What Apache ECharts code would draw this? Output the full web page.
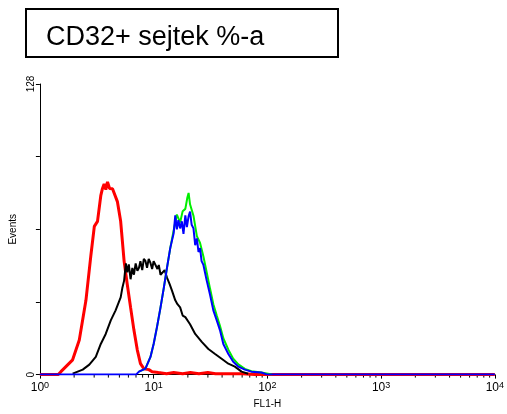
<!DOCTYPE html>
<html><head><meta charset="utf-8">
<script src="https://cdn.jsdelivr.net/npm/echarts@6/dist/echarts.min.js"></script>
<style>html,body{margin:0;padding:0;background:#fff}#c{width:507px;height:414px}</style>
</head><body><div id="c"></div>
<script>
// FL1-H channel values (x) and event counts (y) for each histogram
var redX = [1, 1.45, 1.53, 1.94, 2.22, 2.54, 2.81, 3.01, 3.21, 3.43, 3.55, 3.67, 3.80, 3.93, 4.10, 4.35, 4.80, 5.13, 5.50, 5.87, 6.27, 6.71, 7.18, 7.66, 8.20, 9.08, 9.70, 11, 13, 15, 18, 21, 25, 30, 35, 42, 50, 60, 80, 100, 10000];
var redY = [0, 0, 1.3, 6.5, 15.2, 32.7, 52.7, 65.3, 67.5, 78.8, 82, 84, 81.5, 84.9, 82, 81.9, 76.2, 67.5, 50, 39.6, 29.6, 19.6, 10.9, 4.8, 2.6, 2.2, 1.3, 0.9, 0.4, 0.9, 0.4, 0.9, 0.4, 0.9, 0.4, 0.4, 0.4, 0.4, 0, 0, 0];

var blackX = [1.94, 2.38, 2.72, 3.10, 3.43, 3.79, 4.20, 4.63, 5.13, 5.30, 5.50, 5.70, 5.87, 6.05, 6.27, 6.50, 6.71, 6.95, 7.20, 7.43, 7.65, 7.94, 8.20, 8.47, 8.75, 9.05, 9.38, 9.70, 10.0, 10.4, 10.8, 11.1, 11.5, 11.9, 12.5, 13.1, 13.8, 14.5, 15.5, 16.2, 17.1, 18.0, 19.0, 20.9, 23.2, 26.5, 30.3, 34.7, 39.6, 45.4, 51.8, 59.3, 67.8];
var blackY = [0.4, 2.2, 4.4, 7.8, 13.5, 17.9, 23.9, 28.3, 34, 38, 41.4, 49, 45, 48.5, 42, 47, 44, 49, 45.7, 47, 50, 46, 51, 50.1, 47, 51, 49.2, 46.5, 50, 49.2, 46.5, 48.3, 44, 44, 46, 42.7, 40, 37, 32.7, 31, 29.6, 26, 25.3, 22.2, 17.9, 14.4, 11.3, 9.1, 7, 4.8, 3.5, 1.3, 0.4];

var greenX = [7.43, 8.47, 9.38, 10.0, 10.7, 11.5, 12.3, 13.1, 14.0, 15.0, 16.0, 17.1, 18.0, 19.0, 19.8, 20.3, 20.9, 22.4, 24.0, 25.6, 27.4, 29.3, 31.3, 33.5, 35.9, 38.3, 41.0, 45.4, 50.1, 55.6, 63.4, 72.4, 88.7, 110];
var greenY = [1.3, 2.6, 7.8, 13.5, 20.9, 29.6, 38.3, 47, 55.7, 63.5, 70.5, 67, 72, 73, 78, 80, 75, 70, 61, 58, 52, 45, 38, 31, 26, 21.5, 16, 11, 7, 4.5, 2.5, 1.5, 0.9, 0];

var blueX = [1, 7.0, 7.43, 8.47, 9.38, 10.0, 10.7, 11.5, 12.3, 13.1, 14.0, 15.0, 15.5, 16.0, 16.5, 17.1, 17.7, 18.3, 19.0, 19.6, 20.3, 20.9, 21.6, 22.4, 23.2, 24.0, 24.8, 25.6, 26.4, 27.4, 29.3, 31.3, 33.5, 35.9, 38.3, 41.0, 45.4, 50.1, 55.6, 63.4, 72.4, 88.7, 100, 10000];
var blueY = [0, 0, 1.3, 2.6, 7.8, 13.5, 20.9, 29.6, 38.3, 47, 55.7, 62.3, 70.1, 64, 68, 64.4, 67.5, 62, 70.1, 65, 69.7, 71.8, 66, 64.4, 57, 60, 54, 55.7, 50, 48.3, 41.4, 35.3, 28.3, 23.9, 19.6, 13.5, 9.1, 5.7, 3.5, 2.2, 1.3, 0.9, 0, 0];

var xTickExponents = ['0', '1', '2', '3', '4'];
var xMinorTicks = [2,3,4,5,6,7,8,9, 20,30,40,50,60,70,80,90, 200,300,400,500,600,700,800,900, 2000,3000,4000,5000,6000,7000,8000,9000];
var yTickLabels = {0: '0', 128: '128'};

function pairs(xs, ys) { return xs.map(function (x, i) { return [x, ys[i]]; }); }

var chart = echarts.init(document.getElementById('c'));
var font = 'Liberation Sans, Arial, sans-serif';
chart.setOption({
  animation: false,
  backgroundColor: '#fff',
  title: {
    text: 'CD32+ sejtek %-a',
    left: 46, top: 24, padding: 0,
    textStyle: { fontFamily: font, fontSize: 27, fontWeight: 'normal', color: '#000' }
  },
  graphic: [{
    type: 'rect', shape: { x: 26, y: 9, width: 312, height: 48 },
    style: { fill: 'none', stroke: '#000', lineWidth: 2 }, silent: true
  }],
  grid: { left: 37, right: 12, top: 84, bottom: 36 },
  xAxis: {
    type: 'log', min: 1, max: 10000, logBase: 10,
    name: 'FL1-H', nameLocation: 'middle', nameGap: 23,
    nameTextStyle: { fontFamily: font, fontSize: 10, color: '#000' },
    axisLine: { lineStyle: { color: '#000', width: 1 } },
    axisTick: { show: true, length: 4, lineStyle: { color: '#000' } },
    splitLine: { show: false },
    axisLabel: {
      margin: 6, color: '#000', fontFamily: font, fontSize: 12,
      formatter: function (v) {
        var e = Math.round(Math.log10(v));
        return '10{s|' + xTickExponents[e] + '}';
      },
      rich: { s: { fontSize: 9, verticalAlign: 'top', padding: [0, 0, 6, 0], fontFamily: font, color: '#000' } }
    }
  },
  yAxis: {
    type: 'value', min: 0, max: 128, interval: 32,
    name: 'Events', nameLocation: 'middle', nameRotate: 90, nameGap: 20,
    nameTextStyle: { fontFamily: font, fontSize: 10, color: '#000' },
    axisLine: { show: true, lineStyle: { color: '#000', width: 1 } },
    axisTick: { show: true, length: 4, lineStyle: { color: '#000' } },
    splitLine: { show: false },
    axisLabel: {
      rotate: 90, margin: 4, color: '#000', fontFamily: font, fontSize: 10,
      formatter: function (v) { return yTickLabels[v] || ''; }
    }
  },
  series: [
    { type: 'line', data: pairs(redX, redY), symbol: 'none', lineStyle: { color: '#ff0000', width: 3 }, z: 2 },
    { type: 'line', data: pairs(blackX, blackY), symbol: 'none', lineStyle: { color: '#000', width: 2 }, z: 3 },
    { type: 'line', data: pairs(greenX, greenY), symbol: 'none', lineStyle: { color: '#00ee00', width: 2 }, z: 4 },
    { type: 'line', data: pairs(blueX, blueY), symbol: 'none', lineStyle: { color: '#0000ff', width: 2 }, z: 5 },
    {
      type: 'custom', clip: false, silent: true, z: 1,
      data: xMinorTicks.map(function (v) { return [v, 0]; }),
      renderItem: function (params, api) {
        var p = api.coord([api.value(0), 0]);
        return { type: 'line', shape: { x1: p[0], y1: p[1], x2: p[0], y2: p[1] + 3 }, style: { stroke: '#000', lineWidth: 1 } };
      }
    }
  ]
});
</script></body></html>
